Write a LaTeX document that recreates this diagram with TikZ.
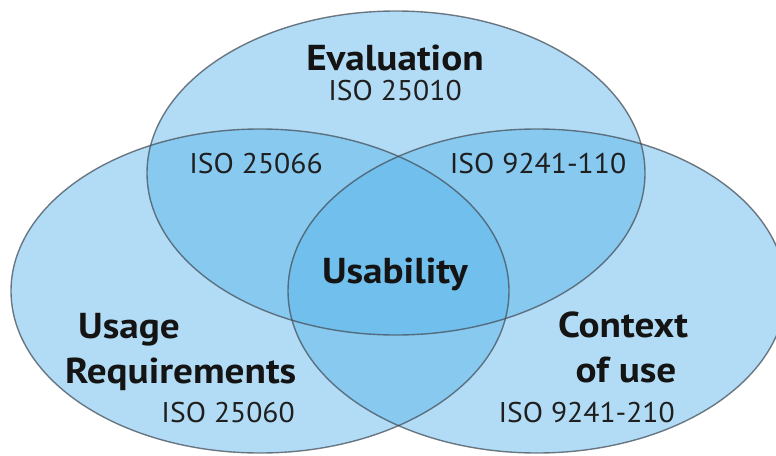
\documentclass[tikz,border=0pt]{standalone}
\usepackage{fontspec}
\setmainfont{PT Sans}
\newfontfamily\widebold[FakeStretch=1.09]{PT Sans}
\newfontfamily\wideiso[FakeStretch=1.04]{PT Sans}
\definecolor{setblue}{RGB}{84,178,233}
\definecolor{rimgray}{RGB}{70,80,90}
\tikzset{
  setfill/.style={fill=setblue,fill opacity=0.45},
  setrim/.style={draw=rimgray,draw opacity=0.75,line width=1.4},
  bigname/.style={inner sep=0pt,text=black!92,font=\widebold\fontsize{36}{40}\selectfont\bfseries},
  isoname/.style={inner sep=0pt,text=black!88,font=\wideiso\fontsize{28.5}{32}\selectfont},
}

\begin{document}
\begin{tikzpicture}[x=1pt,y=-1pt]
        \useasboundingbox (0,0) rectangle (776,455);
        \clip (0,0) rectangle (776,455);
        % the three sets
        \foreach \cx/\cy in {396/173, 260/291, 537/291}
            \fill[setfill] (\cx,\cy) ellipse [x radius=249, y radius=162];
        \foreach \cx/\cy in {396/173, 260/291, 537/291}
            \draw[setrim] (\cx,\cy) ellipse [x radius=249, y radius=162];
        % top set
        \node[bigname,anchor=base] (eval) at (395,70) {Evaluation};
        \node[isoname,anchor=base] (evaliso) at (395,100) {ISO 25010};
        % pairwise overlaps
        \node[isoname,anchor=base] (leftiso) at (256,173) {ISO 25066};
        \node[isoname,anchor=base] (rightiso) at (538,173) {ISO 9241-110};
        % middle
        \node[bigname,anchor=base] (usab) at (395,283) {Usability};
        % left set
        \node[bigname,anchor=base west] (usage) at (78,338) {Usage};
        \node[bigname,anchor=base west] (req) at (65,383) {Requirements};
        \node[isoname,anchor=base east] (reqiso) at (295,422) {ISO 25060};
        % right set
        \node[bigname,anchor=base] (context) at (623,337) {Context};
        \node[bigname,anchor=base] (ofuse) at (626,382) {of use};
        \node[isoname,anchor=base east] (contextiso) at (675,422) {ISO 9241-210};
    \end{tikzpicture}
\end{document}
